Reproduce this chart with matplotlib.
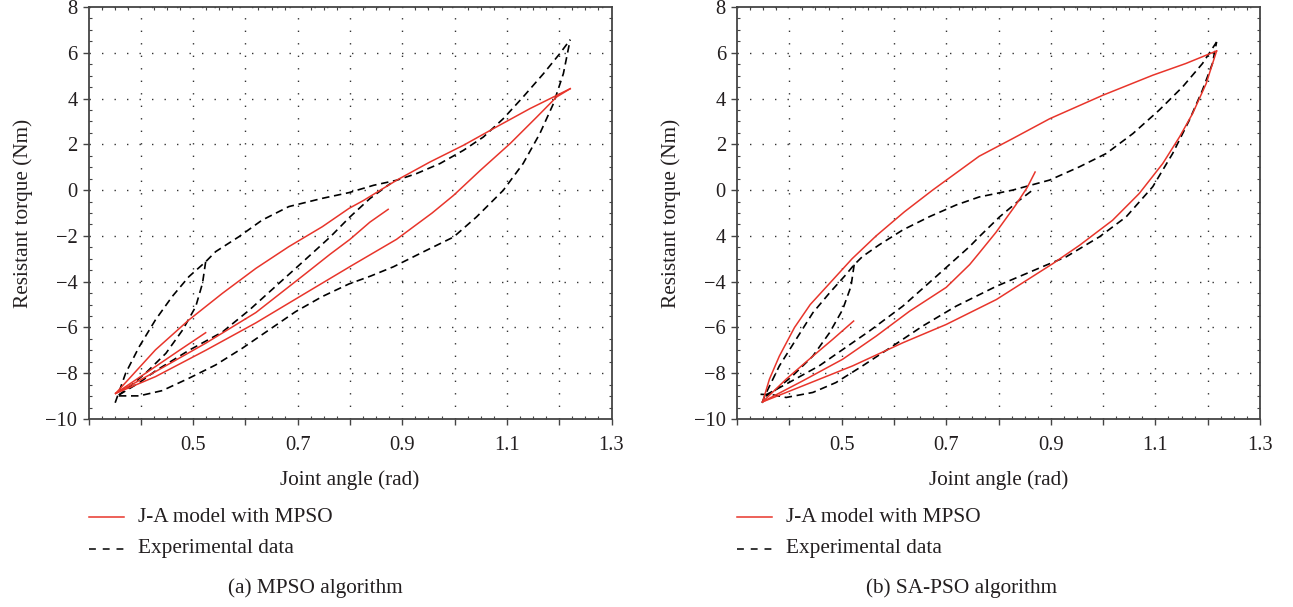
import numpy as np
import matplotlib
matplotlib.use("Agg")
import matplotlib.pyplot as plt
from matplotlib.lines import Line2D
from matplotlib.ticker import MultipleLocator

plt.rcParams['font.family'] = ['Liberation Serif', 'DejaVu Serif']

RED = '#e8352b'
INK = '#231f20'
W, H = 1293, 607

# ---- axis ticks / labels ----
x_ticks = [0.3, 0.4, 0.5, 0.6, 0.7, 0.8, 0.9, 1.0, 1.1, 1.2, 1.3]
x_labels = ['', '', '0.5', '', '0.7', '', '0.9', '', '1.1', '', '1.3']
y_ticks = [-10, -8, -6, -4, -2, 0, 2, 4, 6, 8]
y_labels_a = ['\u221210', '\u22128', '\u22126', '\u22124', '\u22122', '0', '2', '4', '6', '8']
y_labels_b = ['\u221210', '\u22128', '\u22126', '\u22124', '4', '0', '2', '4', '6', '8']

# ---- (a) MPSO: experimental data branches ----
a_exp_outer_x = [0.351, 0.371, 0.397, 0.428, 0.460, 0.492, 0.524, 0.543, 0.588, 0.632, 0.683,
                 0.747, 0.798, 0.845, 0.889, 0.927, 0.972, 1.017, 1.055, 1.093, 1.131, 1.170,
                 1.201, 1.221]
a_exp_outer_y = [-9.29, -8.00, -6.84, -5.67, -4.65, -3.78, -3.13, -2.69, -2.03, -1.31, -0.72,
                 -0.36, -0.11, 0.21, 0.43, 0.72, 1.16, 1.74, 2.32, 3.12, 4.07, 5.09, 5.96, 6.57]
a_exp_small_x = [0.524, 0.518, 0.505, 0.480, 0.448, 0.409, 0.371, 0.358]
a_exp_small_y = [-3.13, -4.07, -5.09, -6.11, -7.13, -8.00, -8.73, -8.95]
a_exp_mid_x = [0.358, 0.398, 0.428, 0.492, 0.556, 0.607, 0.658, 0.709, 0.762, 0.800, 0.838, 0.878]
a_exp_mid_y = [-8.95, -8.40, -7.90, -7.00, -6.20, -5.25, -4.20, -3.15, -2.05, -1.17, -0.37, 0.30]
a_exp_low_x = [0.358, 0.397, 0.441, 0.492, 0.543, 0.594, 0.645, 0.696, 0.747, 0.798, 0.840,
               0.883, 0.940, 0.998, 1.042, 1.093, 1.131, 1.163, 1.189, 1.208, 1.221]
a_exp_low_y = [-8.99, -8.99, -8.76, -8.22, -7.64, -6.91, -6.11, -5.31, -4.65, -4.10, -3.75,
               -3.35, -2.70, -2.05, -1.17, -0.01, 1.16, 2.47, 3.78, 5.09, 6.57]

# ---- (a) MPSO: J-A model branches ----
a_fit_up_x = [0.352, 0.428, 0.492, 0.556, 0.620, 0.683, 0.747, 0.798, 0.826, 0.889, 0.953,
              1.017, 1.080, 1.144, 1.221]
a_fit_up_y = [-8.88, -6.98, -5.67, -4.51, -3.42, -2.47, -1.60, -0.80, -0.45, 0.43, 1.23,
              1.96, 2.76, 3.56, 4.43]
a_fit_small_x = [0.352, 0.428, 0.475, 0.524]
a_fit_small_y = [-8.88, -7.71, -6.98, -6.23]
a_fit_mid_x = [0.352, 0.428, 0.524, 0.620, 0.715, 0.762, 0.800, 0.838, 0.873]
a_fit_mid_y = [-8.88, -7.93, -6.69, -5.35, -3.65, -2.80, -2.15, -1.40, -0.84]
a_fit_low_x = [0.352, 0.428, 0.524, 0.620, 0.715, 0.803, 0.889, 0.957, 0.998, 1.049, 1.106,
               1.157, 1.195, 1.221]
a_fit_low_y = [-8.88, -8.15, -7.00, -5.80, -4.50, -3.30, -2.15, -1.00, -0.23, 0.86, 2.03,
               3.19, 4.07, 4.43]

# ---- (b) SA-PSO: experimental data branches ----
b_exp_outer_x = [0.348, 0.353, 0.381, 0.413, 0.445, 0.477, 0.508, 0.524, 0.540, 0.572, 0.617,
                 0.668, 0.719, 0.763, 0.827, 0.898, 0.955, 1.006, 1.057, 1.107, 1.152, 1.190,
                 1.217]
b_exp_outer_y = [-9.30, -8.99, -7.68, -6.52, -5.36, -4.49, -3.70, -3.26, -2.90, -2.39, -1.74,
                 -1.16, -0.65, -0.30, 0.00, 0.44, 1.02, 1.60, 2.47, 3.49, 4.51, 5.53, 6.47]
b_exp_small_x = [0.524, 0.518, 0.502, 0.477, 0.445, 0.406, 0.368, 0.355]
b_exp_small_y = [-3.26, -4.20, -5.22, -6.23, -7.25, -8.12, -8.84, -9.00]
b_exp_mid_x = [0.355, 0.400, 0.457, 0.553, 0.617, 0.681, 0.745, 0.763, 0.802, 0.840, 0.868]
b_exp_mid_y = [-8.95, -8.40, -7.68, -6.16, -5.07, -3.77, -2.46, -2.04, -1.17, -0.44, 0.05]
b_exp_low_x = [0.345, 0.370, 0.394, 0.445, 0.489, 0.540, 0.598, 0.655, 0.719, 0.796, 0.891,
               0.929, 0.993, 1.044, 1.095, 1.133, 1.165, 1.190, 1.209, 1.217]
b_exp_low_y = [-8.92, -8.95, -9.06, -8.84, -8.41, -7.68, -6.81, -5.94, -5.07, -4.20, -3.28,
               -2.92, -2.04, -1.17, 0.15, 1.60, 3.06, 4.37, 5.53, 6.47]

# ---- (b) SA-PSO: J-A model branches ----
b_fit_up_x = [0.349, 0.362, 0.381, 0.410, 0.440, 0.480, 0.520, 0.566, 0.620, 0.674, 0.763,
              0.827, 0.898, 0.999, 1.095, 1.158, 1.217]
b_fit_up_y = [-9.25, -8.26, -7.25, -6.00, -5.00, -4.00, -3.00, -2.00, -0.95, 0.00, 1.48,
              2.25, 3.12, 4.14, 5.02, 5.53, 6.08]
b_fit_small_x = [0.349, 0.394, 0.438, 0.483, 0.523]
b_fit_small_y = [-9.25, -8.26, -7.39, -6.52, -5.72]
b_fit_mid_x = [0.349, 0.426, 0.502, 0.566, 0.630, 0.700, 0.745, 0.763, 0.795, 0.833, 0.855, 0.870]
b_fit_mid_y = [-9.25, -8.33, -7.39, -6.38, -5.29, -4.25, -3.25, -2.75, -1.85, -0.65, 0.12, 0.79]
b_fit_low_x = [0.349, 0.426, 0.521, 0.617, 0.700, 0.796, 0.904, 0.955, 1.018, 1.069, 1.114,
               1.146, 1.171, 1.197, 1.217]
b_fit_low_y = [-9.25, -8.55, -7.68, -6.67, -5.87, -4.78, -3.21, -2.41, -1.32, -0.15, 1.16,
               2.32, 3.34, 4.65, 6.08]

panels = [
    dict(left=88.5,
         exp=[(a_exp_outer_x, a_exp_outer_y), (a_exp_small_x, a_exp_small_y),
              (a_exp_mid_x, a_exp_mid_y), (a_exp_low_x, a_exp_low_y)],
         fit=[(a_fit_up_x, a_fit_up_y), (a_fit_small_x, a_fit_small_y),
              (a_fit_mid_x, a_fit_mid_y), (a_fit_low_x, a_fit_low_y)],
         ylabels=y_labels_a, caption='(a) MPSO algorithm', cap_x=315),
    dict(left=737.0,
         exp=[(b_exp_outer_x, b_exp_outer_y), (b_exp_small_x, b_exp_small_y),
              (b_exp_mid_x, b_exp_mid_y), (b_exp_low_x, b_exp_low_y)],
         fit=[(b_fit_up_x, b_fit_up_y), (b_fit_small_x, b_fit_small_y),
              (b_fit_mid_x, b_fit_mid_y), (b_fit_low_x, b_fit_low_y)],
         ylabels=y_labels_b, caption='(b) SA-PSO algorithm', cap_x=962),
]

fig = plt.figure(figsize=(W / 100, H / 100), dpi=100, facecolor='white')

FS_TICK = 14.8
FS_TEXT = 15.3
for p in panels:
    ax = fig.add_axes([p['left'] / W, (H - 419) / H, 523 / W, 412 / H])

    # dotted grid
    for gx in x_ticks[1:-1]:
        ax.axvline(gx, color='#333333', lw=1.0, ls=(0, (1, 8)), zorder=0)
    for gy in y_ticks[1:]:
        ax.axhline(gy, color='#333333', lw=1.0, ls=(0, (1, 8)), zorder=0)

    for xs, ys in p['exp']:
        ax.plot(xs, ys, color='black', lw=1.2, ls=(0, (4.5, 2.8)), zorder=2)
    for xs, ys in p['fit']:
        ax.plot(xs, ys, color=RED, lw=1.1, zorder=3)

    ax.set_xlim(0.3, 1.3)
    ax.set_ylim(-10, 8)
    ax.set_xticks(x_ticks)
    ax.set_xticklabels(x_labels)
    ax.set_yticks(y_ticks)
    ax.set_yticklabels(p['ylabels'])
    ax.xaxis.set_minor_locator(MultipleLocator(0.025))
    ax.yaxis.set_minor_locator(MultipleLocator(0.5))
    ax.tick_params(which='major', direction='out', length=4, width=1.0, color='#444444',
                   labelsize=FS_TICK, labelcolor=INK, top=False, right=False)
    ax.tick_params(axis='x', which='major', pad=8)
    ax.tick_params(axis='y', which='major', pad=4)
    ax.tick_params(which='minor', direction='in', length=2.5, width=0.8, color='#444444',
                   top=True, right=True, bottom=True, left=True)
    for s in ax.spines.values():
        s.set_color('#444444')
        s.set_linewidth(1.3)

    ax.set_xlabel('Joint angle (rad)', fontsize=FS_TEXT, color=INK, labelpad=11)
    ax.set_ylabel('Resistant torque (Nm)', fontsize=FS_TEXT, color=INK, labelpad=9)

    # legend keys below each panel
    lx0 = p['left'] / W
    lx1 = (p['left'] + 35) / W
    fig.add_artist(Line2D([lx0, lx1], [1 - 517 / H] * 2, transform=fig.transFigure,
                          color=RED, lw=1.1))
    fig.add_artist(Line2D([lx0, lx1], [1 - 549 / H] * 2, transform=fig.transFigure,
                          color='black', lw=1.1, ls=(0, (4.5, 4.5))))
    tx = (p['left'] + 49) / W
    fig.text(tx, 1 - 517 / H, 'J-A model with MPSO', fontsize=FS_TEXT, color=INK, va='center')
    fig.text(tx, 1 - 549 / H, 'Experimental data', fontsize=FS_TEXT, color=INK, va='center')
    fig.text(p['cap_x'] / W, 1 - 588 / H, p['caption'], fontsize=FS_TEXT, color=INK,
             ha='center', va='center')

fig.savefig('out.png', dpi=100, facecolor='white')
